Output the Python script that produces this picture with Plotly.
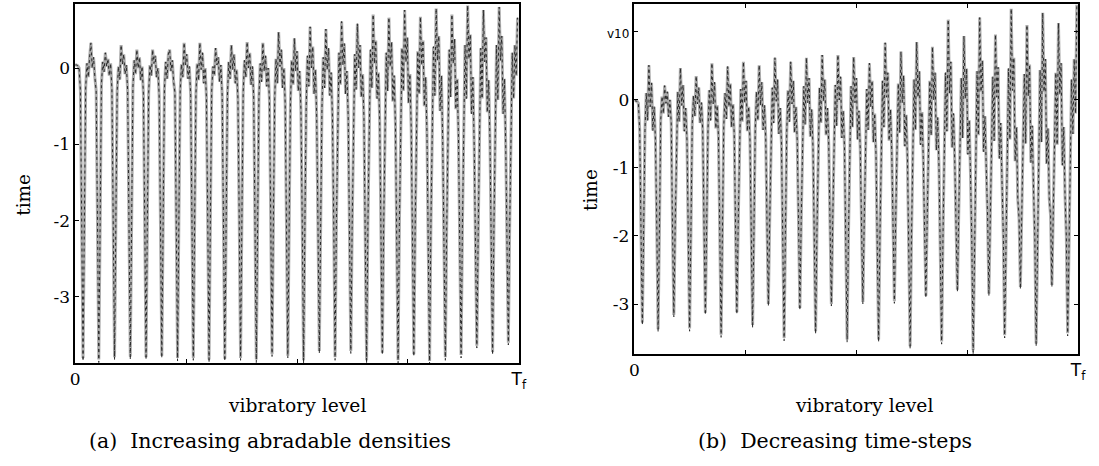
import plotly.graph_objects as go

# ---------------- data ----------------
# (a) Increasing abradable densities
a_start = [0.04, 0.04, 0.03, 0.00, -0.30, -2.05]
a_dips_black = [-3.84, -3.86, -3.82, -3.82, -3.82, -3.80, -3.84, -3.83, -3.86, -3.84,
                -3.83, -3.86, -3.78, -3.80, -3.87, -3.74, -3.83, -3.74, -3.87, -3.76,
                -3.87, -3.78, -3.88, -3.83, -3.80, -3.67, -3.76, -3.63]
a_dips_gray = [-3.80, -3.82, -3.79, -3.78, -3.79, -3.77, -3.80, -3.80, -3.82, -3.81,
               -3.80, -3.82, -3.75, -3.77, -3.83, -3.71, -3.79, -3.71, -3.83, -3.73,
               -3.83, -3.75, -3.84, -3.79, -3.76, -3.64, -3.72, -3.60]
a_cycles = [
    [-2.05, -0.26, 0.06, -0.12, 0.14, 0.33, 0.00, 0.14, -0.12, -0.30, -2.00],
    [-2.10, -0.22, 0.08, -0.05, 0.20, 0.02, 0.12, -0.10, 0.06, -0.28, -2.05],
    [-2.00, -0.30, 0.02, -0.15, 0.30, 0.05, 0.18, -0.08, 0.04, -0.30, -2.05],
    [-2.05, -0.25, 0.10, -0.08, 0.24, 0.00, 0.14, -0.16, 0.02, -0.34, -2.00],
    [-2.00, -0.32, 0.04, -0.10, 0.24, 0.06, 0.16, -0.12, 0.00, -0.36, -2.05],
    [-2.05, -0.28, 0.08, -0.14, 0.18, 0.24, -0.04, 0.10, -0.18, -0.32, -2.00],
    [-2.00, -0.30, 0.05, -0.12, 0.33, 0.04, 0.18, -0.14, 0.02, -0.36, -2.05],
    [-2.05, -0.34, 0.06, -0.16, 0.33, -0.02, 0.20, -0.20, 0.00, -0.38, -2.00],
    [-2.00, -0.30, 0.02, -0.10, 0.26, 0.04, 0.14, -0.18, 0.04, -0.36, -2.05],
    [-2.05, -0.36, 0.08, -0.14, 0.30, -0.02, 0.18, -0.20, -0.02, -0.40, -2.00],
    [-2.00, -0.32, 0.10, -0.12, 0.34, 0.00, 0.20, -0.22, 0.02, -0.38, -2.05],
    [-2.05, -0.38, 0.06, -0.18, 0.33, -0.04, 0.16, -0.24, 0.00, -0.42, -2.00],
    [-2.00, -0.40, 0.12, -0.20, 0.47, 0.02, 0.24, -0.26, 0.00, -0.46, -2.10],
    [-2.10, -0.46, 0.10, -0.22, 0.39, -0.04, 0.22, -0.30, -0.04, -0.55, -2.05],
    [-2.05, -0.50, 0.16, -0.24, 0.54, 0.00, 0.28, -0.34, -0.02, -0.64, -2.10],
    [-2.10, -0.52, 0.14, -0.26, 0.51, -0.02, 0.26, -0.36, -0.06, -0.64, -2.05],
    [-2.05, -0.48, 0.20, -0.22, 0.61, 0.04, 0.32, -0.34, -0.04, -0.64, -2.10],
    [-2.10, -0.54, 0.18, -0.28, 0.58, 0.00, 0.30, -0.38, -0.08, -0.66, -2.05],
    [-2.05, -0.56, 0.24, -0.26, 0.70, 0.06, 0.36, -0.40, -0.06, -0.70, -2.10],
    [-2.10, -0.60, 0.20, -0.30, 0.66, 0.02, 0.34, -0.44, -0.10, -0.75, -2.05],
    [-2.05, -0.62, 0.26, -0.30, 0.76, 0.08, 0.40, -0.46, -0.08, -0.78, -2.10],
    [-2.10, -0.66, 0.22, -0.34, 0.67, 0.04, 0.36, -0.50, -0.12, -0.85, -2.05],
    [-2.05, -0.70, 0.28, -0.36, 0.78, 0.10, 0.42, -0.56, -0.10, -0.95, -2.15],
    [-2.15, -0.68, 0.24, -0.38, 0.70, 0.06, 0.38, -0.54, -0.14, -0.90, -2.10],
    [-2.10, -0.74, 0.30, -0.40, 0.82, 0.12, 0.44, -0.60, -0.12, -1.04, -2.20],
    [-2.20, -0.72, 0.26, -0.40, 0.76, 0.08, 0.40, -0.58, -0.16, -0.95, -2.10],
    [-2.10, -0.76, 0.30, -0.42, 0.80, 0.10, 0.42, -0.60, -0.14, -1.00, -2.15],
    [-2.10, -0.70, 0.20, -0.40, 0.30, -0.10, 0.66],
]

# (b) Decreasing time-steps
b_start = [-0.01, -0.01, -0.02, -0.05, -0.45, -1.95]
b_dips_black = [-3.31, -3.41, -3.19, -3.40, -3.16, -3.49, -3.15, -3.35, -3.03, -3.54,
                -3.09, -3.44, -3.03, -3.56, -3.00, -3.56, -2.99, -3.66, -2.91, -3.59,
                -2.82, -3.74, -2.88, -3.50, -2.78, -3.62, -2.75, -3.47]
b_dips_gray = [-3.27, -3.37, -3.16, -3.36, -3.13, -3.45, -3.12, -3.31, -3.00, -3.50,
               -3.06, -3.40, -3.00, -3.52, -2.97, -3.52, -2.96, -3.62, -2.88, -3.55,
               -2.79, -3.68, -2.85, -3.46, -2.75, -3.58, -2.72, -3.43]
b_cycles = [
    [-1.90, -0.45, 0.10, -0.30, 0.51, -0.10, 0.25, -0.45, -0.10, -0.59, -1.85],
    [-1.95, -0.30, 0.05, -0.20, 0.21, -0.05, 0.12, -0.25, 0.00, -0.34, -1.90],
    [-1.85, -0.48, 0.12, -0.32, 0.47, -0.08, 0.22, -0.46, -0.12, -0.59, -1.95],
    [-1.95, -0.36, 0.06, -0.24, 0.35, -0.06, 0.18, -0.34, -0.04, -0.44, -1.85],
    [-1.85, -0.44, 0.14, -0.30, 0.54, -0.06, 0.26, -0.42, -0.08, -0.54, -1.95],
    [-1.95, -0.40, 0.10, -0.28, 0.49, -0.10, 0.24, -0.40, -0.06, -0.50, -1.85],
    [-1.85, -0.48, 0.16, -0.32, 0.56, -0.04, 0.28, -0.46, -0.10, -0.60, -1.95],
    [-1.95, -0.44, 0.12, -0.30, 0.51, -0.08, 0.26, -0.44, -0.08, -0.55, -1.85],
    [-1.80, -0.52, 0.18, -0.34, 0.62, -0.02, 0.30, -0.50, -0.12, -0.65, -1.95],
    [-1.95, -0.48, 0.14, -0.32, 0.56, -0.06, 0.28, -0.48, -0.10, -0.60, -1.80],
    [-1.80, -0.56, 0.20, -0.36, 0.62, -0.04, 0.32, -0.54, -0.14, -0.70, -1.95],
    [-1.95, -0.52, 0.18, -0.34, 0.66, -0.02, 0.30, -0.52, -0.12, -0.65, -1.80],
    [-1.80, -0.58, 0.22, -0.38, 0.66, 0.00, 0.34, -0.56, -0.16, -0.70, -2.00],
    [-2.00, -0.60, 0.20, -0.40, 0.63, -0.04, 0.32, -0.58, -0.16, -0.72, -1.80],
    [-1.80, -0.64, 0.16, -0.44, 0.54, -0.10, 0.28, -0.62, -0.20, -0.80, -2.00],
    [-2.00, -0.62, 0.28, -0.40, 0.84, 0.04, 0.40, -0.60, -0.14, -0.75, -1.75],
    [-1.75, -0.72, 0.24, -0.48, 0.71, -0.04, 0.36, -0.68, -0.22, -0.90, -2.05],
    [-2.05, -0.68, 0.30, -0.44, 0.85, 0.04, 0.42, -0.66, -0.18, -0.85, -1.75],
    [-1.75, -0.80, 0.28, -0.52, 0.78, 0.00, 0.40, -0.74, -0.26, -1.00, -2.05],
    [-2.05, -0.72, 0.40, -0.46, 1.18, 0.10, 0.56, -0.70, -0.20, -0.90, -1.70],
    [-1.70, -0.86, 0.32, -0.56, 0.94, 0.02, 0.46, -0.80, -0.30, -1.10, -2.10],
    [-2.10, -0.80, 0.42, -0.52, 1.21, 0.12, 0.58, -0.76, -0.24, -1.00, -1.70],
    [-1.70, -0.92, 0.34, -0.60, 0.96, 0.04, 0.48, -0.86, -0.34, -1.20, -2.00],
    [-2.00, -0.90, 0.46, -0.58, 1.34, 0.14, 0.62, -0.90, -0.40, -1.45, -1.75],
    [-1.75, -0.96, 0.38, -0.64, 1.10, 0.06, 0.52, -0.92, -0.38, -1.30, -2.05],
    [-2.05, -0.94, 0.44, -0.62, 1.28, 0.12, 0.60, -0.94, -0.42, -1.45, -1.70],
    [-1.70, -1.00, 0.40, -0.66, 1.13, 0.08, 0.54, -0.96, -0.40, -1.40, -2.00],
    [-1.95, -0.80, 0.30, -0.50, 0.60, -0.20, 1.40],
]

x_ticks = [0, 338]
x_minor_ticks = [84.5, 169, 253.5]
x_ticktext = ["0", "<span style='font-family:DejaVu Sans'>T<sub>f</sub></span>"]
a_yticks = [0, -1, -2, -3]
a_yticktext = ["0", "-1", "-2", "-3"]
b_yticks = [1, 0, -1, -2, -3]
b_yticktext = ["<span style='font-family:DejaVu Sans;font-size:12px'>v10</span>",
               "0", "-1", "-2", "-3"]


def assemble(start, dips, cycles):
    ys = list(start)
    for d, row in zip(dips, cycles):
        ys.append(d)
        ys.extend(row)
    return list(range(len(ys))), ys


SERIF = "DejaVu Serif"
fig = go.Figure()

for (start, dg, db, cyc, xa, ya) in [
    (a_start, a_dips_gray, a_dips_black, a_cycles, "x", "y"),
    (b_start, b_dips_gray, b_dips_black, b_cycles, "x2", "y2"),
]:
    xg, yg = assemble(start, dg, cyc)
    xb, yb = assemble(start, db, cyc)
    fig.add_trace(go.Scatter(x=xg, y=yg, mode="lines", xaxis=xa, yaxis=ya,
                             line=dict(color="#ababab", width=3.0),
                             showlegend=False, hoverinfo="skip"))
    fig.add_trace(go.Scatter(x=xb, y=yb, mode="lines", xaxis=xa, yaxis=ya,
                             line=dict(color="#2a2a2a", width=1.0, dash="3px,3px"),
                             showlegend=False, hoverinfo="skip"))

W, H = 1099, 466
axis_common = dict(showgrid=False, zeroline=False, showline=True, linecolor="black",
                   linewidth=1.5, ticks="inside", ticklen=4, tickwidth=1,
                   tickcolor="black", tickfont=dict(family=SERIF, size=17, color="black"))
minor_x = dict(tickvals=x_minor_ticks, ticks="inside", ticklen=4, tickwidth=1,
               tickcolor="black", showgrid=False)

fig.update_layout(
    width=W, height=H, margin=dict(l=0, r=0, t=0, b=0), autosize=False,
    paper_bgcolor="white", plot_bgcolor="white",
    xaxis=dict(domain=[71 / W, 520 / W], range=[0, 338], tickvals=x_ticks,
               ticktext=x_ticktext, mirror=True, anchor="y", minor=minor_x,
               **axis_common),
    yaxis=dict(domain=[1 - 363 / H, 1 - 4 / H], range=[-3.866, 0.839],
               tickvals=a_yticks, ticktext=a_yticktext, mirror=True, anchor="x",
               **axis_common),
    xaxis2=dict(domain=[637 / W, 1086 / W], range=[0, 338], tickvals=x_ticks,
                ticktext=x_ticktext, mirror="ticks", anchor="y2", minor=minor_x,
                **axis_common),
    yaxis2=dict(domain=[1 - 354 / H, 1 - 4 / H], range=[-3.735, 1.41],
                tickvals=b_yticks, ticktext=b_yticktext, mirror="ticks", anchor="x2",
                **axis_common),
)

ann = [
    dict(text="vibratory level", x=296, y=405, size=18.7, angle=0),
    dict(text="vibratory level", x=869, y=405, size=18.7, angle=0),
    dict(text="time", x=18, y=195, size=18.5, angle=-90),
    dict(text="time", x=592, y=190, size=18.5, angle=-90),
    dict(text="(a)  Increasing abradable densities", x=268, y=441, size=20.5, angle=0),
    dict(text="(b)  Decreasing time-steps", x=840, y=441, size=20.5, angle=0),
]
for a in ann:
    fig.add_annotation(text=a["text"], x=a["x"] / W, y=1 - a["y"] / H,
                       xref="paper", yref="paper", showarrow=False,
                       xanchor="center", yanchor="middle", textangle=a["angle"],
                       font=dict(family=SERIF, size=a["size"], color="black"))

fig.write_html("out.html")
